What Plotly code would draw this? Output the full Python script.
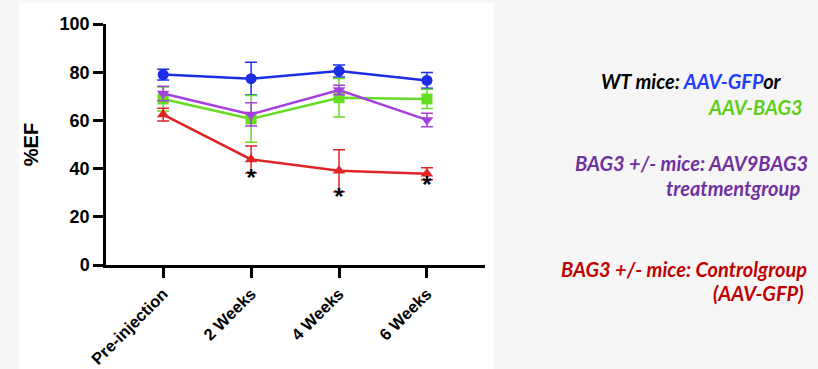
import plotly.graph_objects as go

# data
categories = ['Pre-injection', '2 Weeks', '4 Weeks', '6 Weeks']

wt_gfp = [79.0, 77.3, 80.5, 76.6]
wt_gfp_err = [2.2, 6.8, 2.5, 3.3]

wt_bag3 = [68.9, 60.6, 69.4, 68.9]
wt_bag3_err = [5.0, 9.7, 8.0, 4.0]

het_bag3 = [71.2, 62.5, 72.6, 60.2]
het_bag3_err = [3.0, 4.8, 2.0, 2.8]

het_ctrl = [62.4, 43.8, 39.1, 37.9]
het_ctrl_err = [2.6, 5.6, 8.7, 2.5]

star_cats = ['2 Weeks', '4 Weeks', '6 Weeks']
star_y = [35.3, 27.4, 32.5]

y_ticks = [0, 20, 40, 60, 80, 100]

series = [
    (wt_gfp, wt_gfp_err, '#1a2ee6', 'circle'),
    (wt_bag3, wt_bag3_err, '#66dd22', 'square'),
    (het_bag3, het_bag3_err, '#a540dc', 'triangle-down'),
    (het_ctrl, het_ctrl_err, '#e02424', 'triangle-up'),
]

fig = go.Figure()
for vals, errs, col, sym in series:
    fig.add_trace(go.Scatter(
        x=categories, y=vals, mode='lines+markers',
        line=dict(color=col, width=2.5),
        marker=dict(color=col, symbol=sym, size=11),
        error_y=dict(type='data', array=errs, color=col, thickness=1.5, width=6),
        showlegend=False,
    ))

# significance marks
fig.add_trace(go.Scatter(
    x=star_cats, y=star_y, mode='text', text=['<b>*</b>'] * len(star_cats),
    textfont=dict(family='Liberation Sans, Arial', size=24, color='black'),
    showlegend=False,
))

bold = dict(family='Liberation Sans, Arial', color='black', weight='bold')

fig.update_xaxes(
    type='category', range=[-0.65, 3.66], automargin=False,
    showline=True, linecolor='black', linewidth=2.5,
    ticks='outside', ticklen=10, tickwidth=2.5, tickcolor='black',
    tickangle=-45, tickfont=dict(size=16.5, **bold), showgrid=False, zeroline=False,
)
fig.update_yaxes(
    range=[0, 100], tickvals=y_ticks, automargin=False,
    showline=True, linecolor='black', linewidth=2.5,
    ticks='outside', ticklen=10, tickwidth=2.5, tickcolor='black',
    tickfont=dict(size=18, **bold),
    showgrid=False, zeroline=False,
    title=dict(text='%EF', font=dict(size=20, **bold), standoff=16),
)

# white panel behind the chart
fig.add_shape(type='rect', xref='paper', yref='paper',
              x0=-0.2296, x1=1.0237, y0=-0.44, y1=1.087,
              fillcolor='white', line=dict(width=0), layer='below')

label_font = dict(family='Lato, Open Sans', size=20)
labels = [
    ("<b><i>WT mice: <span style='color:#1f3cff'>AAV-GFP</span>or</i></b>", 1.79, 1.0 - (81 - 24) / 241, 'black'),
    ("<b><i>AAV-BAG3</i></b>", 1.845, 1.0 - (107 - 24) / 241, '#5ccf1a'),
    ("<b><i>BAG3 +/- mice: AAV9BAG3</i></b>", 1.857, 1.0 - (163 - 24) / 241, '#7030a0'),
    ("<b><i>treatmentgroup</i></b>", 1.836, 1.0 - (188 - 24) / 241, '#7030a0'),
    ("<b><i>BAG3 +/- mice: Controlgroup</i></b>", 1.855, 1.0 - (269 - 24) / 241, '#c00000'),
    ("<b><i>(AAV-GFP)</i></b>", 1.845, 1.0 - (293 - 24) / 241, '#c00000'),
]
for txt, x, y, col in labels:
    fig.add_annotation(text=txt, xref='paper', yref='paper', x=x, y=y,
                       xanchor='right', yanchor='middle', showarrow=False,
                       font=dict(color=col, **label_font))

fig.update_layout(
    width=818, height=369,
    margin=dict(l=106, r=333, t=24, b=104),
    paper_bgcolor='#f6f6f6', plot_bgcolor='white',
)

# drop the default page margin so the figure sits at the window's corner
fig.write_html('out.html', config={'displayModeBar': False},
               post_script="document.body.style.margin='0';")
